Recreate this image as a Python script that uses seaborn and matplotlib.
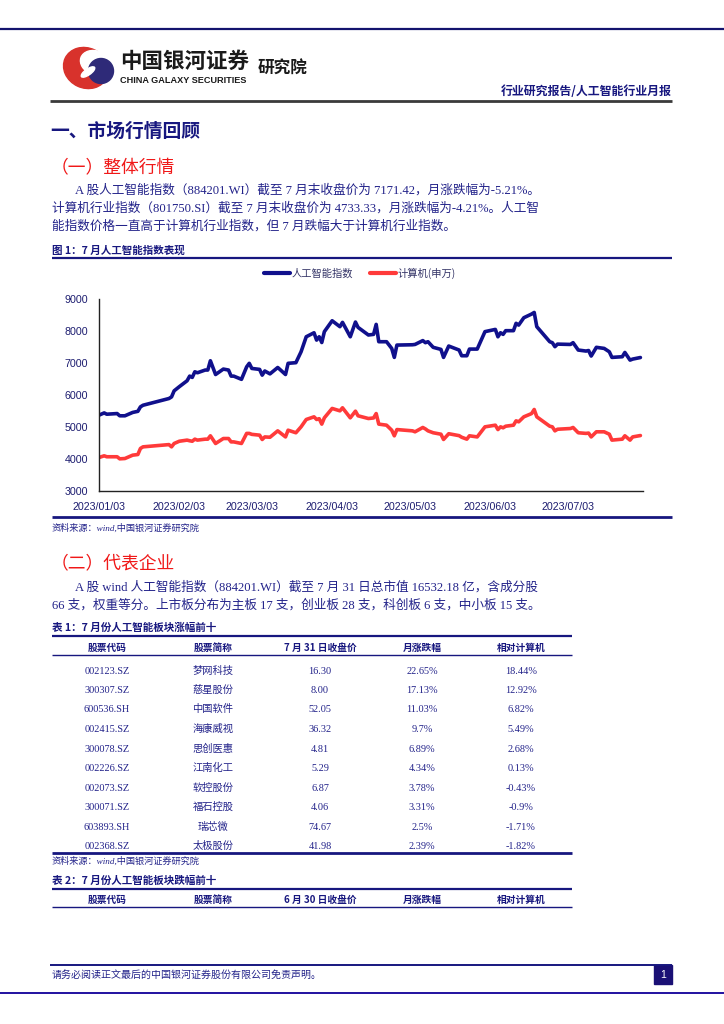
"""
plot.py
-------
Rebuild of a China Galaxy Securities monthly report page (AI sector).
The index chart is drawn with seaborn, the rest of the page is plain text
and lines on a full-page axes measured in pixels.
"""

import matplotlib
matplotlib.use("Agg")
import matplotlib.pyplot as plt
import matplotlib.dates as mdates
from matplotlib.patches import Ellipse, Circle, Rectangle
from matplotlib.lines import Line2D
import pandas as pd
import seaborn as sns

# ============================================================
# DATA (read off the reference chart / table)
# ============================================================
trade_dates = [
    "2023-01-03", "2023-01-05", "2023-01-06", "2023-01-10", "2023-01-11",
    "2023-01-13", "2023-01-16", "2023-01-18", "2023-01-19", "2023-01-20",
    "2023-01-30", "2023-01-31", "2023-02-01", "2023-02-03", "2023-02-06",
    "2023-02-07", "2023-02-08", "2023-02-09", "2023-02-10", "2023-02-13",
    "2023-02-14", "2023-02-15", "2023-02-17", "2023-02-20", "2023-02-22",
    "2023-02-23", "2023-02-24", "2023-02-27", "2023-03-01", "2023-03-02",
    "2023-03-03", "2023-03-06", "2023-03-07", "2023-03-08", "2023-03-10",
    "2023-03-13", "2023-03-16", "2023-03-17", "2023-03-20", "2023-03-22",
    "2023-03-24", "2023-03-27", "2023-03-28", "2023-03-29", "2023-03-30",
    "2023-03-31", "2023-04-03", "2023-04-06", "2023-04-07", "2023-04-10",
    "2023-04-12", "2023-04-13", "2023-04-17", "2023-04-19", "2023-04-20",
    "2023-04-21", "2023-04-24", "2023-04-26", "2023-04-27", "2023-04-28",
    "2023-05-04", "2023-05-05", "2023-05-08", "2023-05-09", "2023-05-10",
    "2023-05-12", "2023-05-15", "2023-05-16", "2023-05-18", "2023-05-22",
    "2023-05-23", "2023-05-25", "2023-05-26", "2023-05-29", "2023-06-01",
    "2023-06-05", "2023-06-06", "2023-06-07", "2023-06-08", "2023-06-09",
    "2023-06-12", "2023-06-13", "2023-06-14", "2023-06-16", "2023-06-19",
    "2023-06-20", "2023-06-21", "2023-06-26", "2023-06-27", "2023-06-28",
    "2023-06-29", "2023-07-04", "2023-07-05", "2023-07-07", "2023-07-10",
    "2023-07-11", "2023-07-12", "2023-07-14", "2023-07-17", "2023-07-19",
    "2023-07-20", "2023-07-24", "2023-07-25", "2023-07-27", "2023-07-28",
    "2023-07-31",
]

ai_index = [
    5370, 5440, 5400, 5420, 5350, 5350, 5455, 5490, 5630, 5680,
    5890, 5940, 6130, 6260, 6445, 6590, 6550, 6725, 6695, 6780,
    6780, 7070, 6640, 6810, 6780, 6590, 6590, 6490, 6880, 6990,
    6830, 6800, 6620, 6750, 6660, 6860, 6640, 6990, 7010, 7350,
    7820, 7945, 7715, 7820, 7640, 7980, 8320, 8135, 8270, 7820,
    8280, 8113, 7875, 7895, 8207, 7665, 7665, 7455, 7175, 7560,
    7570, 7580, 7700, 7635, 7665, 7490, 7425, 7175, 7530, 7405,
    7227, 7227, 7435, 7435, 7980, 8050, 7820, 7945, 7895, 8010,
    8010, 8240, 8185, 8415, 8530, 8580, 8135, 7665, 7635, 7510,
    7590, 7580, 7635, 7405, 7373, 7390, 7217, 7490, 7456, 7350,
    7175, 7196, 7330, 7090, 7122, 7171,
]

computer_index = [
    4046, 4100, 4070, 4070, 4005, 4015, 4120, 4140, 4330, 4380,
    4450, 4380, 4485, 4555, 4590, 4570, 4555, 4620, 4590, 4620,
    4620, 4725, 4485, 4640, 4640, 4535, 4535, 4485, 4800, 4800,
    4770, 4745, 4610, 4690, 4680, 4880, 4690, 4900, 4820, 5005,
    5235, 5318, 5235, 5260, 5090, 5287, 5580, 5505, 5600, 5287,
    5495, 5350, 5265, 5283, 5420, 5090, 5057, 4900, 4725, 4920,
    4880, 4850, 4985, 4940, 4880, 4820, 4775, 4610, 4790, 4730,
    4680, 4620, 4725, 4690, 5005, 5057, 4920, 5005, 4975, 5025,
    5057, 5193, 5162, 5318, 5420, 5547, 5318, 5025, 5005, 4880,
    4930, 4953, 4985, 4820, 4800, 4810, 4690, 4850, 4850, 4775,
    4590, 4620, 4725, 4590, 4690, 4733,
]

series_names = ["人工智能指数", "计算机(申万)"]
x_tick_dates = ["2023-01-03", "2023-02-03", "2023-03-03", "2023-04-03",
                "2023-05-03", "2023-06-03", "2023-07-03"]
y_ticks = [3000, 4000, 5000, 6000, 7000, 8000, 9000]

table_header_1 = ["股票代码", "股票简称", "7 月 31 日收盘价", "月涨跌幅", "相对计算机"]
table_header_2 = ["股票代码", "股票简称", "6 月 30 日收盘价", "月涨跌幅", "相对计算机"]
stock_codes = ["002123.SZ", "300307.SZ", "600536.SH", "002415.SZ", "300078.SZ",
               "002226.SZ", "002073.SZ", "300071.SZ", "603893.SH", "002368.SZ"]
stock_names = ["梦网科技", "慈星股份", "中国软件", "海康威视", "思创医惠",
               "江南化工", "软控股份", "福石控股", "瑞芯微", "太极股份"]
close_prices = ["16.30", "8.00", "52.05", "36.32", "4.81",
                "5.29", "6.87", "4.06", "74.67", "41.98"]
month_change = ["22.65%", "17.13%", "11.03%", "9.7%", "6.89%",
                "4.34%", "3.78%", "3.31%", "2.5%", "2.39%"]
relative_change = ["18.44%", "12.92%", "6.82%", "5.49%", "2.68%",
                   "0.13%", "-0.43%", "-0.9%", "-1.71%", "-1.82%"]

# ============================================================
# STYLE
# ============================================================
sns.set_theme(style="white")
plt.rcParams["font.family"] = ["Noto Sans CJK SC", "DejaVu Sans"]
plt.rcParams["axes.unicode_minus"] = False

NAVY = "#17177f"
TEXT = "#23238a"
RED_HEAD = "#f01818"
BLUE_LINE = "#10108c"
RED_LINE = "#ff3a3a"
SERIF = ["Liberation Serif", "Noto Sans CJK SC"]
SANS = ["Liberation Sans", "Noto Sans CJK SC"]
CJK = ["Noto Sans CJK SC"]

W, H = 724, 1024
fig = plt.figure(figsize=(W / 100, H / 100), dpi=100)

# full-page axes in pixel coordinates (y grows downwards)
page = fig.add_axes([0, 0, 1, 1])
page.set_xlim(0, W)
page.set_ylim(H, 0)
page.axis("off")


def hline(y, x0, x1, lw=1.0, color=NAVY):
    page.plot([x0, x1], [y, y], color=color, lw=lw, solid_capstyle="butt")


def txt(x, y, s, size=9, color=TEXT, family=SERIF, **kw):
    # y is the visual middle of the line; place on a shared baseline so
    # latin-only and CJK strings line up in the same row
    base = y + 0.37 * size * 100 / 72
    page.text(x, base, s, fontsize=size, color=color, family=family,
              va="baseline", **kw)


# --- header ---
hline(29, 0, W, lw=1.6, color="#14146e")

page.add_patch(Ellipse((86, 68), 46, 40, angle=25, color="#d8322c"))
page.add_patch(Ellipse((96, 63), 32, 24, angle=20, color="white"))
page.add_patch(Circle((101, 71), 12.5, color="#2e2a78"))
page.add_patch(Ellipse((88, 72), 16, 6, angle=-35, color="white"))

txt(120, 60, "中国银河证券", size=15.5, color="#1a1a1a", family=CJK, weight="bold")
txt(120, 80, "CHINA GALAXY SECURITIES", size=6.6, color="#1a1a1a",
    family=["Liberation Sans"], weight="bold")
txt(258, 68, "研究院", size=12, color="#1a1a1a", family=CJK, weight="bold")
txt(672, 91, "行业研究报告/人工智能行业月报", size=8.6, color=NAVY,
    family=CJK, weight="bold", ha="right")
hline(101, 50, 672, lw=2.0, color="#3a3a3a")

# --- section 1 ---
txt(50, 130, "一、市场行情回顾", size=13.5, color=NAVY, family=CJK, weight="bold")
txt(51, 167, "（一）整体行情", size=12.8, color=RED_HEAD, family=CJK)

para1 = [
    (75, 189, "A 股人工智能指数（884201.WI）截至 7 月末收盘价为 7171.42，月涨跌幅为-5.21%。"),
    (52, 207, "计算机行业指数（801750.SI）截至 7 月末收盘价为 4733.33，月涨跌幅为-4.21%。人工智"),
    (52, 225, "能指数价格一直高于计算机行业指数，但 7 月跌幅大于计算机行业指数。"),
]
for x, y, s in para1:
    txt(x, y, s, size=9.1)

txt(52, 250, "图 1：7 月人工智能指数表现", size=7.6, color=NAVY, family=CJK, weight="bold")
hline(258, 52, 672, lw=1.6)

# --- chart ---
ax = fig.add_axes([99 / W, 1 - 491 / H, 544 / W, 192 / H])
df = pd.DataFrame({"date": pd.to_datetime(trade_dates),
                   series_names[0]: ai_index,
                   series_names[1]: computer_index})
long_df = df.melt(id_vars="date", var_name="series", value_name="value")
sns.lineplot(data=long_df, x="date", y="value", hue="series",
             palette={series_names[0]: BLUE_LINE, series_names[1]: RED_LINE},
             linewidth=2.6, ax=ax, legend=False)

ax.set_xlim(pd.Timestamp("2023-01-03"), pd.Timestamp("2023-08-01"))
ax.set_ylim(3000, 9000)
ax.set_yticks(y_ticks)
ax.set_xticks(pd.to_datetime(x_tick_dates))
ax.xaxis.set_major_formatter(mdates.DateFormatter("%Y/%m/%d"))
ax.set_xlabel("")
ax.set_ylabel("")
for side in ["top", "right"]:
    ax.spines[side].set_visible(False)
for side in ["left", "bottom"]:
    ax.spines[side].set_color("#222222")
    ax.spines[side].set_linewidth(1.0)
ax.tick_params(axis="both", direction="in", length=3, width=0.8,
               color="#222222", labelsize=7.7, labelcolor="#1d1d70")
ax.tick_params(axis="y", pad=8)
ax.tick_params(axis="x", pad=8)
for lab in ax.get_xticklabels() + ax.get_yticklabels():
    lab.set_family(SANS)

handles = [Line2D([0], [0], color=BLUE_LINE, lw=3),
           Line2D([0], [0], color=RED_LINE, lw=3)]
leg = ax.legend(handles, series_names, loc="center", ncol=2, frameon=False,
                bbox_to_anchor=(0.48, 1.135), fontsize=7.4,
                handlelength=2.5, handletextpad=0.2, columnspacing=1.6)
for t in leg.get_texts():
    t.set_color("#333366")

hline(517, 52, 672, lw=2.0)
txt(52, 527, "资料来源：wind,中国银河证券研究院", size=6.6, style="italic")

# --- section 2 ---
txt(51, 562, "（二）代表企业", size=12.8, color=RED_HEAD, family=CJK)
para2 = [
    (75, 586, "A 股 wind 人工智能指数（884201.WI）截至 7 月 31 日总市值 16532.18 亿，含成分股"),
    (52, 604, "66 支，权重等分。上市板分布为主板 17 支，创业板 28 支，科创板 6 支，中小板 15 支。"),
]
for x, y, s in para2:
    txt(x, y, s, size=9.1)

# --- table 1 ---
col_x = [107, 213, 320, 422, 521]
txt(52, 627, "表 1：7 月份人工智能板块涨幅前十", size=7.6, color=NAVY, family=CJK, weight="bold")
hline(636, 52, 572, lw=1.6)
for cx, head in zip(col_x, table_header_1):
    txt(cx, 647, head, size=7, color=NAVY, family=CJK, weight="bold", ha="center")
hline(655, 52, 572, lw=1.0)

row_y = [670, 689, 708, 728, 748, 767, 787, 806, 826, 845]
for i, y in enumerate(row_y):
    cells = [stock_codes[i], stock_names[i], close_prices[i],
             month_change[i], relative_change[i]]
    for cx, cell in zip(col_x, cells):
        txt(cx, y, cell, size=7.4, ha="center")
hline(853, 52, 572, lw=2.0)
txt(52, 860, "资料来源：wind,中国银河证券研究院", size=6.6, style="italic")

# --- table 2 (header only on this page) ---
txt(52, 880, "表 2：7 月份人工智能板块跌幅前十", size=7.6, color=NAVY, family=CJK, weight="bold")
hline(889, 52, 572, lw=1.6)
for cx, head in zip(col_x, table_header_2):
    txt(cx, 899, head, size=7, color=NAVY, family=CJK, weight="bold", ha="center")
hline(907, 52, 572, lw=1.0)

# --- footer ---
hline(965, 50, 672, lw=1.4)
txt(52, 974, "请务必阅读正文最后的中国银河证券股份有限公司免责声明。", size=7.2)
page.add_patch(Rectangle((654, 965), 18, 19, color="#1a1075"))
txt(663, 974.5, "1", size=7.5, color="white", family=["Liberation Sans"], ha="center")
hline(993, 0, W, lw=1.4, color="#2010a0")

fig.savefig("out.png", dpi=100)
